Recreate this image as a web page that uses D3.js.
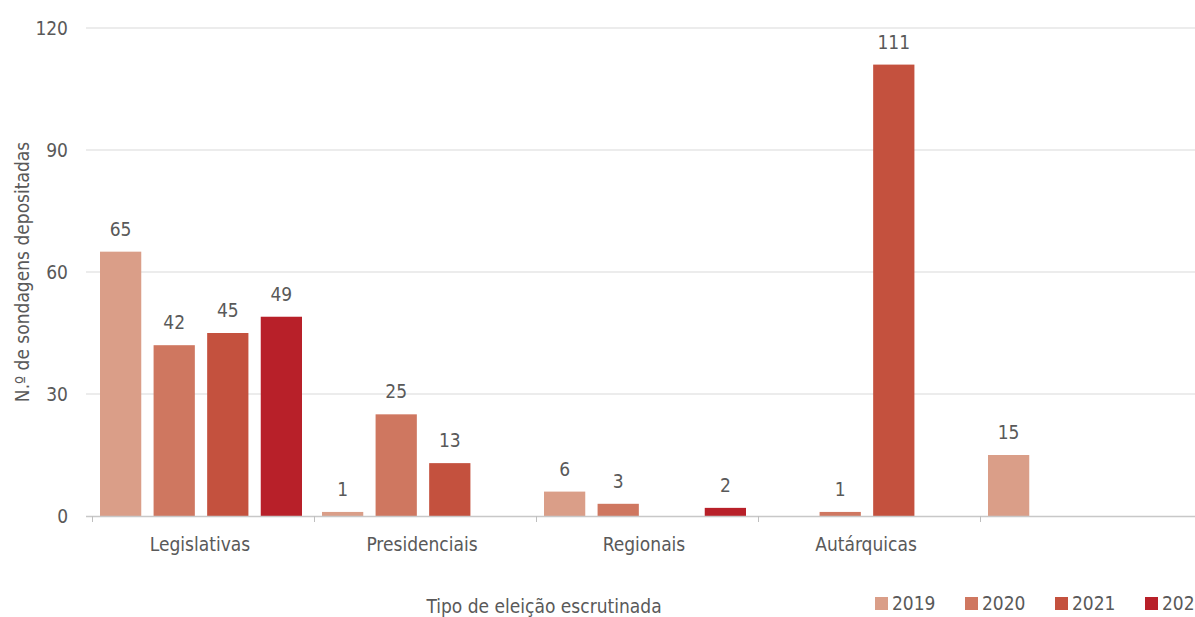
<!DOCTYPE html>
<html><head><meta charset="utf-8">
<script src="https://cdn.jsdelivr.net/npm/d3@7"></script>
<style>
body{margin:0;background:#fff;}
svg text{font-family:"DejaVu Sans Condensed",sans-serif;fill:#595959;}
</style></head><body>
<svg id="c" width="1195" height="617"></svg>
<script>
const categories=["Legislativas","Presidenciais","Regionais","Autárquicas",""];
const years=["2019","2020","2021","2022"];
const v2019=[65,1,6,0,15];
const v2020=[42,25,3,1,0];
const v2021=[45,13,0,111,0];
const v2022=[49,0,2,0,0];
const yTicks=[0,30,60,90,120];
const colors=["#DA9E88","#CF7760","#C4513E","#B82029"];
const series=[v2019,v2020,v2021,v2022];

const svg=d3.select("#c");
const x0=d3.scaleBand().domain(categories.map((c,i)=>i)).range([92,1202]);
const x1=d3.scaleBand().domain(years).range([8,210]).paddingInner(0.23);
const y=d3.scaleLinear().domain([0,120]).range([516,28]);

// gridlines
svg.append("g").selectAll("line").data(yTicks.filter(t=>t>0)).join("line")
 .attr("x1",86).attr("x2",1195).attr("y1",d=>y(d)).attr("y2",d=>y(d))
 .attr("stroke","#d9d9d9").attr("stroke-width",1);

// y axis
const ya=svg.append("g").attr("transform","translate(86,0)")
 .call(d3.axisLeft(y).tickValues(yTicks).tickSize(0).tickPadding(18));
ya.select(".domain").remove();
ya.selectAll("text").attr("font-size",19).style("font-family",null);

// bars
const data=[];
categories.forEach((c,i)=>years.forEach((yr,j)=>{data.push({ci:i,yr,v:series[j][i],col:colors[j]});}));
const bars=data.filter(d=>d.v>0);
svg.append("g").selectAll("rect").data(bars).join("rect")
 .attr("x",d=>x0(d.ci)+x1(d.yr)).attr("width",x1.bandwidth())
 .attr("y",d=>y(d.v)).attr("height",d=>y(0)-y(d.v)).attr("fill",d=>d.col);
svg.append("g").selectAll("text").data(bars).join("text")
 .attr("x",d=>x0(d.ci)+x1(d.yr)+x1.bandwidth()/2).attr("y",d=>y(d.v)-16)
 .attr("text-anchor","middle").attr("font-size",19).text(d=>d.v);

// x axis
svg.append("line").attr("x1",86).attr("x2",1195).attr("y1",516.5).attr("y2",516.5)
 .attr("stroke","#c8c8c8").attr("stroke-width",1.5);
const xa=svg.append("g").attr("transform","translate(0,516)");
xa.selectAll("line").data(categories.map((c,i)=>i)).join("line")
 .attr("x1",d=>x0(d)+0.5).attr("x2",d=>x0(d)+0.5).attr("y1",0).attr("y2",6)
 .attr("stroke","#bfbfbf");
xa.selectAll("text").data(categories.map((c,i)=>i)).join("text")
 .attr("x",d=>x0(d)+x0.bandwidth()/2-3).attr("y",35)
 .attr("text-anchor","middle").attr("font-size",19).text(d=>categories[d]);

// axis titles
svg.append("text").attr("x",544).attr("y",613).attr("text-anchor","middle")
 .attr("font-size",19).text("Tipo de eleição escrutinada");
svg.append("text").attr("transform","translate(29,272) rotate(-90)").attr("text-anchor","middle")
 .attr("font-size",19).text("N.º de sondagens depositadas");

// legend
const lg=svg.append("g").selectAll("g").data(years).join("g")
 .attr("transform",(d,i)=>`translate(${875+i*90},597)`);
lg.append("rect").attr("width",13).attr("height",13).attr("fill",(d,i)=>colors[i]);
lg.append("text").attr("x",17).attr("y",13).attr("font-size",19).text(d=>d);
</script></body></html>
